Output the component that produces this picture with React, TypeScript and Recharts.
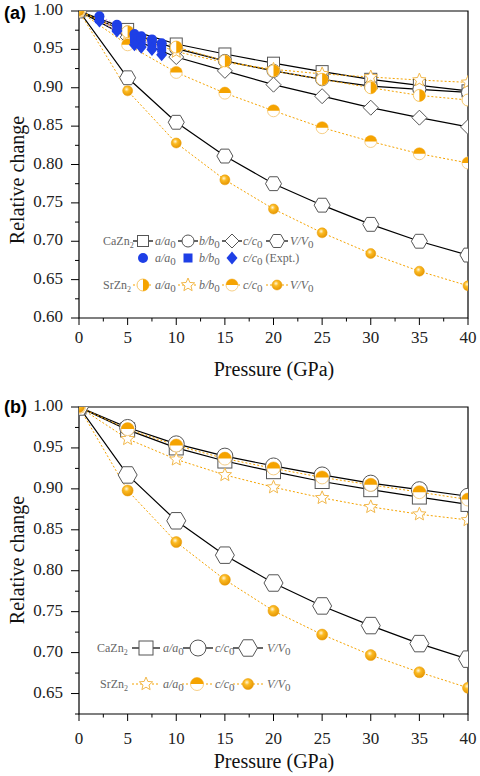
import React from "react";
import { ComposedChart, Line, XAxis, YAxis, ReferenceArea } from "recharts";

const pressures = [0, 5, 10, 15, 20, 25, 30, 35, 40];
const xTicks = [0, 2.5, 5, 7.5, 10, 12.5, 15, 17.5, 20, 22.5, 25, 27.5, 30, 32.5, 35, 37.5, 40];
const yTicksA = [0.6, 0.625, 0.65, 0.675, 0.7, 0.725, 0.75, 0.775, 0.8, 0.825, 0.85, 0.875, 0.9, 0.925, 0.95, 0.975, 1.0];
const yTicksB = [0.625, 0.65, 0.675, 0.7, 0.725, 0.75, 0.775, 0.8, 0.825, 0.85, 0.875, 0.9, 0.925, 0.95, 0.975, 1.0];

// panel (a)
const caA_a = [1, 0.976, 0.957, 0.944, 0.932, 0.921, 0.911, 0.903, 0.896];
const caB_a = [1, 0.972, 0.951, 0.935, 0.922, 0.911, 0.902, 0.898, 0.894];
const caC_a = [1, 0.966, 0.94, 0.922, 0.904, 0.889, 0.874, 0.861, 0.849];
const caV_a = [1, 0.913, 0.855, 0.811, 0.775, 0.747, 0.722, 0.7, 0.682];
const srA_a = [1, 0.973, 0.953, 0.935, 0.922, 0.911, 0.9, 0.89, 0.884];
const srB_a = [1, 0.97, 0.947, 0.933, 0.924, 0.918, 0.914, 0.91, 0.907];
const srC_a = [1, 0.956, 0.92, 0.893, 0.87, 0.848, 0.83, 0.814, 0.802];
const srV_a = [1, 0.896, 0.828, 0.78, 0.742, 0.711, 0.684, 0.661, 0.642];

// experiment (CaZn2)
const exptP = [2.1, 3.9, 5.7, 6.4, 7.5, 8.5];
const exptA = [0.993, 0.982, 0.97, 0.967, 0.963, 0.958];
const exptB = [0.99, 0.978, 0.964, 0.961, 0.957, 0.952];
const exptC = [0.987, 0.974, 0.956, 0.953, 0.95, 0.943];

// panel (b)
const caA_b = [1, 0.972, 0.95, 0.934, 0.921, 0.909, 0.899, 0.89, 0.881];
const caC_b = [1, 0.975, 0.955, 0.94, 0.928, 0.917, 0.907, 0.899, 0.891];
const caV_b = [1, 0.917, 0.861, 0.819, 0.785, 0.757, 0.733, 0.711, 0.692];
const srA_b = [1, 0.961, 0.936, 0.917, 0.902, 0.889, 0.878, 0.869, 0.862];
const srC_b = [1, 0.973, 0.953, 0.937, 0.925, 0.914, 0.905, 0.896, 0.887];
const srV_b = [1, 0.898, 0.835, 0.789, 0.751, 0.722, 0.697, 0.676, 0.657];

const SERIF = "'Liberation Serif', 'Times New Roman', serif";
const ORANGE = "#F5A300";
const BLUE = "#1E3FE6";
const GRAY = "#555";

const rows = (ps: number[], vs: number[]) => ps.map((p, i) => ({ p, v: vs[i] }));

function Mk({ kind, x, y, s }: { kind: string; x: number; y: number; s: number }) {
  switch (kind) {
    case "sq":
      return <rect x={x - s} y={y - s} width={2 * s} height={2 * s} fill="#fff" stroke={GRAY} />;
    case "ci":
      return <circle cx={x} cy={y} r={s} fill="#fff" stroke={GRAY} />;
    case "di":
      return <path d={`M${x},${y - s}L${x + s},${y}L${x},${y + s}L${x - s},${y}Z`} fill="#fff" stroke={GRAY} />;
    case "hex": {
      const pts = [0, 60, 120, 180, 240, 300]
        .map((a) => `${x + s * Math.cos((a * Math.PI) / 180)},${y + s * Math.sin((a * Math.PI) / 180)}`)
        .join(" ");
      return <polygon points={pts} fill="#fff" stroke={GRAY} />;
    }
    case "half":
      return (
        <g>
          <circle cx={x} cy={y} r={s} fill="#fff" stroke="#F7C766" />
          <path d={`M${x},${y - s}A${s},${s} 0 0 1 ${x},${y + s}Z`} fill={ORANGE} />
        </g>
      );
    case "top":
      return (
        <g>
          <circle cx={x} cy={y} r={s} fill="#fff" stroke="#F7D089" />
          <path d={`M${x - s},${y}A${s},${s} 0 0 1 ${x + s},${y}Z`} fill={ORANGE} />
        </g>
      );
    case "star": {
      const pts = Array.from({ length: 10 }, (_, i) => {
        const a = ((-90 + i * 36) * Math.PI) / 180;
        const r = i % 2 === 0 ? s : s * 0.45;
        return `${x + r * Math.cos(a)},${y + r * Math.sin(a)}`;
      }).join(" ");
      return <polygon points={pts} fill="#fff" stroke="#F2B84B" />;
    }
    case "ball":
      return <circle cx={x} cy={y} r={s} fill="url(#ballGrad)" stroke="#E89A00" strokeWidth={0.5} />;
    case "bci":
      return <circle cx={x} cy={y} r={s} fill={BLUE} />;
    case "bsq":
      return <rect x={x - s} y={y - s} width={2 * s} height={2 * s} fill={BLUE} />;
    case "bdi":
      return <path d={`M${x},${y - s * 1.2}L${x + s},${y}L${x},${y + s * 1.2}L${x - s},${y}Z`} fill={BLUE} />;
    default:
      return null;
  }
}

const dotOf = (kind: string, s: number) => (p: any) =>
  p.cx == null ? <g key={p.index} /> : <Mk key={p.index} kind={kind} x={p.cx} y={p.cy} s={s} />;

function XTick(props: any) {
  const { x, y, payload, off } = props;
  const v = payload.value;
  const major = v % 5 === 0;
  return (
    <g>
      <line x1={x} y1={y} x2={x} y2={y + (major ? 7 : 3.5)} stroke="#000" />
      {major && (
        <text x={x} y={y + off} textAnchor="middle" style={{ fontFamily: SERIF, fontSize: 17 }} fill="#222">
          {v}
        </text>
      )}
    </g>
  );
}

function YTick(props: any) {
  const { x, y, payload } = props;
  const v = payload.value;
  const major = Math.round(v * 1000) % 50 === 0;
  return (
    <g>
      <line x1={x} y1={y} x2={x - (major ? 8 : 4)} y2={y} stroke="#000" />
      {major && (
        <text x={x - 16} y={y + 4} textAnchor="end" style={{ fontFamily: SERIF, fontSize: 17 }} fill="#222">
          {v.toFixed(2)}
        </text>
      )}
    </g>
  );
}

type Series = { ps: number[]; vals: number[]; kind: string; size: number; style: "ca" | "sr" | "ex" };

const seriesA: Series[] = [
  { ps: pressures, vals: caA_a, kind: "sq", size: 6, style: "ca" },
  { ps: pressures, vals: caB_a, kind: "ci", size: 6.5, style: "ca" },
  { ps: pressures, vals: caC_a, kind: "di", size: 7.5, style: "ca" },
  { ps: pressures, vals: caV_a, kind: "hex", size: 8, style: "ca" },
  { ps: pressures, vals: srB_a, kind: "star", size: 7, style: "sr" },
  { ps: pressures, vals: srA_a, kind: "half", size: 6, style: "sr" },
  { ps: pressures, vals: srC_a, kind: "top", size: 6, style: "sr" },
  { ps: pressures, vals: srV_a, kind: "ball", size: 5, style: "sr" },
  { ps: exptP, vals: exptA, kind: "bci", size: 5, style: "ex" },
  { ps: exptP, vals: exptB, kind: "bsq", size: 4.5, style: "ex" },
  { ps: exptP, vals: exptC, kind: "bdi", size: 5.5, style: "ex" },
];

const seriesB: Series[] = [
  { ps: pressures, vals: caA_b, kind: "sq", size: 7, style: "ca" },
  { ps: pressures, vals: caC_b, kind: "ci", size: 8, style: "ca" },
  { ps: pressures, vals: caV_b, kind: "hex", size: 9.5, style: "ca" },
  { ps: pressures, vals: srA_b, kind: "star", size: 7, style: "sr" },
  { ps: pressures, vals: srC_b, kind: "top", size: 6.5, style: "sr" },
  { ps: pressures, vals: srV_b, kind: "ball", size: 5.5, style: "sr" },
];

const lineStyle = (st: string) =>
  st === "ca"
    ? { stroke: "#000", strokeWidth: 1.2 }
    : st === "sr"
    ? { stroke: ORANGE, strokeWidth: 1, strokeDasharray: "2 2" }
    : { stroke: "#C9A2EE", strokeWidth: 1.5, strokeDasharray: "1.5 2" };

function Panel({ series, yTicks, yMin, mTop, mBottom, xOff }: { series: Series[]; yTicks: number[]; yMin: number; mTop: number; mBottom: number; xOff: number }) {
  return (
    <ComposedChart width={480} height={388} margin={{ top: mTop, right: 12, bottom: mBottom, left: 0 }}>
      <XAxis
        dataKey="p"
        type="number"
        domain={[0, 40]}
        ticks={xTicks}
        interval={0}
        tickSize={0}
        tickMargin={0}
        height={30}
        axisLine={false}
        tickLine={false}
        allowDataOverflow
        tick={(p: any) => <XTick {...p} off={xOff} />}
      />
      <YAxis
        type="number"
        domain={[yMin, 1]}
        ticks={yTicks}
        interval={0}
        tickSize={0}
        tickMargin={0}
        width={79}
        axisLine={false}
        tickLine={false}
        allowDataOverflow
        tick={(p: any) => <YTick {...p} />}
      />
      <ReferenceArea x1={0} x2={40} y1={yMin} y2={1} fill="none" stroke="#000" strokeWidth={1.2} fillOpacity={0} />
      {series.map((s, i) => (
        <Line
          key={i}
          data={rows(s.ps, s.vals)}
          dataKey="v"
          type="linear"
          {...lineStyle(s.style)}
          dot={dotOf(s.kind, s.size)}
          activeDot={false}
          isAnimationActive={false}
        />
      ))}
    </ComposedChart>
  );
}

function Ratio({ x, y, a, extra }: { x: number; y: number; a: string; extra?: string }) {
  return (
    <text x={x} y={y + 4} fontFamily={SERIF} fontSize={12} fill="#666">
      <tspan fontStyle="italic">
        {a}/{a}
      </tspan>
      <tspan fontSize={11} dy={3}>
        0
      </tspan>
      {extra && <tspan dy={-3}>{extra}</tspan>}
    </text>
  );
}

function Compound({ x, y, name }: { x: number; y: number; name: string }) {
  return (
    <text x={x} y={y + 4} fontFamily={SERIF} fontSize={12} fill="#666">
      {name}
      <tspan fontSize={8} dy={3}>
        2
      </tspan>
    </text>
  );
}

function LegendItem({ kind, mx, tx, y, s, a, style, half, extra }: any) {
  const ls = lineStyle(style);
  return (
    <g>
      {style !== "ex" && <line x1={mx - half} x2={mx + half} y1={y} y2={y} {...ls} />}
      <Mk kind={kind} x={mx} y={y} s={s} />
      <Ratio x={tx} y={y} a={a} extra={extra} />
    </g>
  );
}

export default function App() {
  return (
    <div style={{ position: "absolute", left: 0, top: 0, width: 480, height: 776, background: "#fff" }}>
      <div style={{ position: "absolute", left: 0, top: 0 }}>
        <Panel series={seriesA} yTicks={yTicksA} yMin={0.6} mTop={11} mBottom={40} xOff={25} />
      </div>
      <div style={{ position: "absolute", left: 0, top: 388 }}>
        <Panel series={seriesB} yTicks={yTicksB} yMin={0.625} mTop={19} mBottom={32} xOff={30} />
      </div>
      <svg width={480} height={776} style={{ position: "absolute", left: 0, top: 0, pointerEvents: "none" }}>
        <defs>
          <radialGradient id="ballGrad" cx="0.4" cy="0.35" r="0.7">
            <stop offset="0%" stopColor="#FFF6D8" />
            <stop offset="35%" stopColor="#FBBA22" />
            <stop offset="100%" stopColor="#E39200" />
          </radialGradient>
        </defs>

        <text x={4} y={19} fontFamily="'Liberation Sans', Arial, sans-serif" fontWeight="bold" fontSize={18} fill="#000">(a)</text>
        <text x={4} y={413} fontFamily="'Liberation Sans', Arial, sans-serif" fontWeight="bold" fontSize={18} fill="#000">(b)</text>

        <text transform="translate(24,180) rotate(-90)" textAnchor="middle" fontFamily={SERIF} fontSize={20} fill="#111">Relative change</text>
        <text transform="translate(24,560) rotate(-90)" textAnchor="middle" fontFamily={SERIF} fontSize={20} fill="#111">Relative change</text>
        <text x={274} y={376} textAnchor="middle" fontFamily={SERIF} fontSize={20} fill="#111">Pressure (GPa)</text>
        <text x={274} y={768} textAnchor="middle" fontFamily={SERIF} fontSize={20} fill="#111">Pressure (GPa)</text>

        {/* legend (a) */}
        <Compound x={103} y={241} name="CaZn" />
        <LegendItem kind="sq" mx={143} tx={155} y={241} s={5.5} a="a" style="ca" half={10} />
        <LegendItem kind="ci" mx={188} tx={199} y={241} s={6} a="b" style="ca" half={10} />
        <LegendItem kind="di" mx={232} tx={243} y={241} s={7} a="c" style="ca" half={10} />
        <LegendItem kind="hex" mx={277} tx={290} y={241} s={7.5} a="V" style="ca" half={11} />
        <LegendItem kind="bci" mx={143} tx={155} y={258} s={5} a="a" style="ex" />
        <LegendItem kind="bsq" mx={188} tx={199} y={258} s={4.5} a="b" style="ex" />
        <LegendItem kind="bdi" mx={232} tx={243} y={258} s={5.5} a="c" style="ex" extra=" (Expt.)" />
        <Compound x={103} y={285} name="SrZn" />
        <LegendItem kind="half" mx={143} tx={155} y={285} s={6} a="a" style="sr" half={10} />
        <LegendItem kind="star" mx={188} tx={199} y={285} s={7} a="b" style="sr" half={10} />
        <LegendItem kind="top" mx={232} tx={243} y={285} s={6} a="c" style="sr" half={10} />
        <LegendItem kind="ball" mx={277} tx={290} y={285} s={5} a="V" style="sr" half={11} />

        {/* legend (b) */}
        <Compound x={97} y={648} name="CaZn" />
        <LegendItem kind="sq" mx={146} tx={163} y={648} s={7} a="a" style="ca" half={14} />
        <LegendItem kind="ci" mx={198} tx={215} y={648} s={8} a="c" style="ca" half={15} />
        <LegendItem kind="hex" mx={248} tx={267} y={648} s={9.5} a="V" style="ca" half={15} />
        <Compound x={100} y={684} name="SrZn" />
        <LegendItem kind="star" mx={146} tx={163} y={684} s={7} a="a" style="sr" half={14} />
        <LegendItem kind="top" mx={197} tx={215} y={684} s={6.5} a="c" style="sr" half={15} />
        <LegendItem kind="ball" mx={248} tx={267} y={684} s={5.5} a="V" style="sr" half={15} />
      </svg>
    </div>
  );
}
